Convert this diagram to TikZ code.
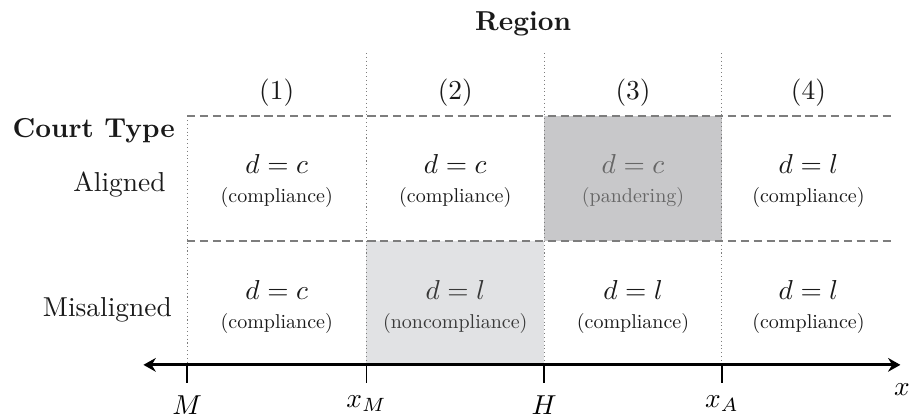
\documentclass[tikz,border=0pt]{standalone}
\usepackage{fontspec}
\newfontfamily\tagfont{lmroman10-regular}[Extension=.otf]
\usetikzlibrary{positioning,arrows.meta}
\definecolor{pandgray}{RGB}{200,200,202}
\definecolor{noncgray}{RGB}{225,226,228}
\definecolor{linegray}{RGB}{125,125,125}
\definecolor{inkgray}{RGB}{26,26,26}
\begin{document}
\begin{tikzpicture}[>={Stealth[length=4.5pt,width=5pt]},text=inkgray,
    grid/.style={linegray,line width=0.6pt,dash pattern=on 3pt off 1.7pt},
    sep/.style={linegray,line width=0.4pt,dash pattern=on 0.4pt off 1pt},
    dec/.style={anchor=base,inner sep=0pt},
    tag/.style={anchor=base,inner sep=0pt,font=\tagfont\fontsize{7.3}{9}\selectfont},
    row/.style={anchor=base east,inner sep=0pt}]
  \useasboundingbox (-2.40,-0.65) rectangle (9.26,4.68);
  % shaded cells
  \fill[pandgray] (4.58,1.59) rectangle (6.86,3.19);
  \fill[noncgray] (2.30,0) rectangle (4.58,1.59);
  % region borders
  \draw[sep] (0,3.19) -- (0,0);
  \foreach \xx in {2.30,4.58,6.86} \draw[sep] (\xx,4.0) -- (\xx,0);
  \draw[grid] (0,3.19) -- (9.08,3.19);
  \draw[grid] (0,1.59) -- (9.08,1.59);
  % headers
  \node (reg) at (4.31,4.38) {\textbf{Region}};
  \foreach \n/\xx in {1/1.15,2/3.44,3/5.72,4/7.97}
    \node (r\n) at (\xx,3.49) {(\n)};
  \node[row] (ct) at (-0.15,2.92) {\textbf{Court Type}};
  \node[row] (al) at (-0.27,2.22) {Aligned};
  \node[row] (mis) at (-0.19,0.62) {Misaligned};
  % aligned court
  \node[dec] (a1) at (1.15,2.45) {$d=c$};
  \node[tag] (a1t) at (1.15,2.08) {(compliance)};
  \node[dec] (a2) at (3.44,2.45) {$d=c$};
  \node[tag] (a2t) at (3.44,2.08) {(compliance)};
  \node[dec,text=black!60] (a3) at (5.72,2.45) {$d=c$};
  \node[tag,text=black!60] (a3t) at (5.72,2.08) {(pandering)};
  \node[dec] (a4) at (7.97,2.45) {$d=l$};
  \node[tag] (a4t) at (7.97,2.08) {(compliance)};
  % misaligned court
  \node[dec] (m1) at (1.15,0.84) {$d=c$};
  \node[tag] (m1t) at (1.15,0.47) {(compliance)};
  \node[dec,text=black!78] (m2) at (3.44,0.84) {$d=l$};
  \node[tag,text=black!78] (m2t) at (3.44,0.47) {(noncompliance)};
  \node[dec] (m3) at (5.72,0.84) {$d=l$};
  \node[tag] (m3t) at (5.72,0.47) {(compliance)};
  \node[dec] (m4) at (7.97,0.84) {$d=l$};
  \node[tag] (m4t) at (7.97,0.47) {(compliance)};
  % axis
  \coordinate (lo) at (-0.56,0);
  \coordinate (hi) at (9.15,0);
  \draw[<->,black,line width=1.1pt] (lo) -- (hi);
  \foreach \nm/\xx/\lb in {tM/0/M,txM/2.30/x_M,tH/4.58/H,txA/6.86/x_A}{
    \coordinate (\nm) at (\xx,0);
    \draw[black,line width=0.5pt] (\nm) -- ++(0,-0.23)
      node[below=1pt,text=black] {$\lb$};
  }
  \node[text=black] (xl) at (9.17,-0.32) {$x$};
\end{tikzpicture}
\end{document}
